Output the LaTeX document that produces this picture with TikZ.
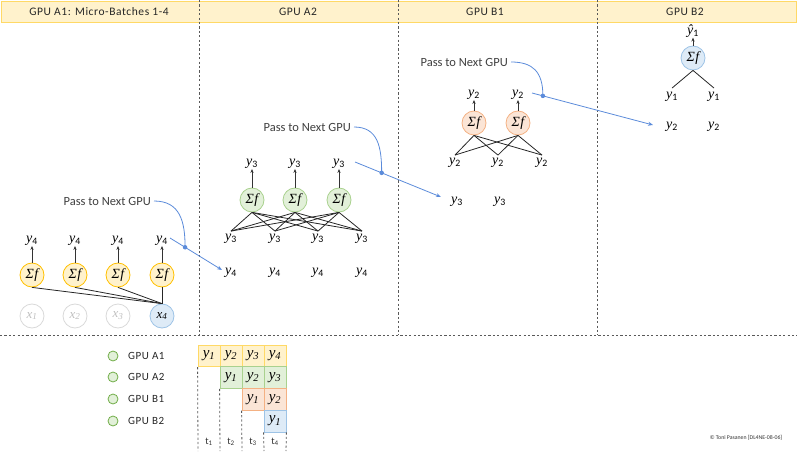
\documentclass[tikz,border=0pt]{standalone}
\usepackage[no-math]{fontspec}
\setmainfont{Carlito}
\newfontfamily\spaced[LetterSpace=5]{Carlito}
\newfontfamily\ser{Liberation Serif}
\newcommand\yy[1]{{\ser\itshape y}\textsubscript{#1}}
\newcommand\xx[1]{{\ser\itshape x\textsubscript{#1}}}
\newcommand\yi[1]{{\ser\itshape y\textsubscript{#1}}}
\newcommand\sumf{{\ser\itshape Σ\kern0.5pt f}}
\usetikzlibrary{arrows.meta,calc}
\definecolor{hdrfill}{HTML}{FFF2CC}
\definecolor{hdrdraw}{HTML}{FFD966}
\definecolor{yelfill}{HTML}{FFF2CC}
\definecolor{yeldraw}{HTML}{FFC000}
\definecolor{grnfill}{HTML}{E2F0D9}
\definecolor{grndraw}{HTML}{A9D18E}
\definecolor{orgfill}{HTML}{FBE5D6}
\definecolor{orgdraw}{HTML}{F4B183}
\definecolor{blufill}{HTML}{DEEBF7}
\definecolor{bludraw}{HTML}{9DC3E6}
\definecolor{arrblue}{HTML}{5B8BDA}
\definecolor{sepgray}{HTML}{595959}
\definecolor{txtgray}{HTML}{404040}
\definecolor{ghostdraw}{HTML}{D9D9D9}
\definecolor{ghosttext}{HTML}{BFBFBF}
\definecolor{legdraw}{HTML}{70AD47}
\tikzset{
  neuron/.style={circle, minimum size=24pt, inner sep=0pt, line width=0.8pt, font=\fontsize{14}{15}\selectfont},
  yel/.style={neuron, fill=yelfill, draw=yeldraw},
  grn/.style={neuron, fill=grnfill, draw=grndraw},
  org/.style={neuron, fill=orgfill, draw=orgdraw},
  blu/.style={neuron, fill=blufill, draw=bludraw},
  ghost/.style={neuron, fill=white, draw=ghostdraw, text=ghosttext, font=\fontsize{13}{14}\selectfont},
  xin/.style={neuron, fill=blufill, draw=bludraw, font=\fontsize{13}{14}\selectfont},
  lab/.style={inner sep=0pt, font=\fontsize{14}{16}\selectfont},
  up/.style={-{Stealth[length=4pt,width=3.2pt]}, line width=0.8pt, draw=black!80},
  wire/.style={line width=0.8pt, draw=black!85},
  passtext/.style={inner sep=0pt, font=\fontsize{12.5}{14}\selectfont, text=txtgray},
  passarrow/.style={draw=arrblue, line width=0.8pt, -{Stealth[length=5pt,width=4pt]}},
  passcurve/.style={draw=arrblue, line width=0.8pt},
  passdot/.style={circle, fill=arrblue, inner sep=0pt, minimum size=4.5pt},
  sep/.style={draw=sepgray, line width=0.8pt, dash pattern=on 2.2pt off 2.2pt},
  hdr/.style={inner sep=0pt, font=\spaced\fontsize{11.5}{13}\selectfont, text=black!85},
  legdot/.style={circle, minimum size=10pt, inner sep=0pt, fill=grnfill, draw=legdraw, line width=0.8pt},
  legtext/.style={inner sep=0pt, anchor=west, font=\spaced\fontsize{11}{13}\selectfont, text=black!85},
  cell/.style={minimum width=22pt, minimum height=21.75pt, inner sep=0pt, line width=0.8pt, font=\fontsize{15}{16}\selectfont},
  cy/.style={cell, fill=yelfill, draw=hdrdraw},
  cg/.style={cell, fill=grnfill, draw=grndraw},
  co/.style={cell, fill=orgfill, draw=orgdraw},
  cb/.style={cell, fill=blufill, draw=bludraw},
  tlab/.style={inner sep=0pt, font=\fontsize{10}{12}\selectfont, text=black!80}
}
\begin{document}
\begin{tikzpicture}[x=1pt,y=-1pt]
\useasboundingbox (0,0) rectangle (797,454);
% header band
\node[draw=hdrdraw, fill=hdrfill, line width=1.2pt, minimum width=795pt, minimum height=21pt, inner sep=0pt, anchor=north west] (band) at (1,1) {};
\node[hdr] (h1) at (99,11.5) {GPU A1: Micro-Batches 1-4};
\node[hdr] (h2) at (298,11.5) {GPU A2};
\node[hdr] (h3) at (485,11.5) {GPU B1};
\node[hdr] (h4) at (685,11.5) {GPU B2};
% separators
\coordinate (s1t) at (199,0); \coordinate (s1b) at (199,335);
\coordinate (s2t) at (398,0); \coordinate (s2b) at (398,335);
\coordinate (s3t) at (597,0); \coordinate (s3b) at (597,335);
\coordinate (hl) at (0,335); \coordinate (hr) at (797,335);
\draw[sep] (s1t) -- (s1b);
\draw[sep] (s2t) -- (s2b);
\draw[sep] (s3t) -- (s3b);
\draw[sep] (hl) -- (hr);

% ===== GPU A1 =====
\node[ghost] (x1) at (32,316) {\xx{1}};
\node[ghost] (x2) at (75,316) {\xx{2}};
\node[ghost] (x3) at (118,316) {\xx{3}};
\node[xin] (x4) at (162,316) {\xx{4}};
\foreach \i/\x in {1/32,2/75,3/118,4/162}{
  \node[yel] (a1n\i) at (\x,275) {\sumf};
  \node[lab] (a1t\i) at (\x,241) {\yy{4}};
  \draw[up] (a1n\i.north) -- (a1t\i.south);
}
\foreach \i in {1,2,3,4}{ \draw[wire] (a1n\i.south) -- (x4.north); }
\node[passtext, anchor=east] (p1) at (151,201) {Pass to Next GPU};
\coordinate (a1s) at (170,238);
\coordinate (a1e) at (222,270);
\draw[passarrow] (a1s) -- (a1e);
\node[passdot] (d1) at ($(a1s)!0.29!(a1e)$) {};
\draw[passcurve] (p1.east) ++(3,0) coordinate (p1s) .. controls ($(p1s)+(26,0)$) and ($(d1)+(0,-26)$) .. (d1.center);

% ===== GPU A2 =====
\foreach \i/\x in {1/231,2/275,3/318,4/362}{
  \node[lab] (a2y\i) at (\x,273) {\yy{4}};
  \node[lab] (a2b\i) at (\x,239) {\yy{3}};
}
\foreach \i/\x in {1/252,2/295,3/339}{
  \node[grn] (a2n\i) at (\x,200) {\sumf};
  \node[lab] (a2t\i) at (\x,164) {\yy{3}};
  \draw[up] (a2n\i.north) -- (a2t\i.south);
  \foreach \j in {1,2,3,4}{ \draw[wire] (a2n\i.south) -- ($(a2b\j.north)+(0,-3)$); }
}
\node[passtext, anchor=east] (p2) at (351,127) {Pass to Next GPU};
\coordinate (a2s) at (355,162);
\coordinate (a2e) at (441,197);
\draw[passarrow] (a2s) -- (a2e);
\node[passdot] (d2) at ($(a2s)!0.31!(a2e)$) {};
\draw[passcurve] (p2.east) ++(3,0) coordinate (p2s) .. controls ($(p2s)+(24,0)$) and ($(d2)+(0,-26)$) .. (d2.center);

% ===== GPU B1 =====
\node[lab] (b1y1) at (457,202) {\yy{3}};
\node[lab] (b1y2) at (500,202) {\yy{3}};
\foreach \i/\x in {1/455,2/498,3/542}{
  \node[lab] (b1b\i) at (\x,163) {\yy{2}};
}
\foreach \i/\x in {1/474,2/518}{
  \node[org] (b1n\i) at (\x,123) {\sumf};
  \node[lab] (b1t\i) at (\x,95) {\yy{2}};
  \draw[up] (b1n\i.north) -- (b1t\i.south);
  \foreach \j in {1,2,3}{ \draw[wire] (b1n\i.south) -- ($(b1b\j.north)+(0,-3)$); }
}
\node[passtext, anchor=east] (p3) at (508,62) {Pass to Next GPU};
\coordinate (b1s) at (532,93);
\coordinate (b1e) at (653,125);
\draw[passarrow] (b1s) -- (b1e);
\node[passdot] (d3) at ($(b1s)!0.09!(b1e)$) {};
\draw[passcurve] (p3.east) ++(3,0) coordinate (p3s) .. controls ($(p3s)+(22,0)$) and ($(d3)+(0,-24)$) .. (d3.center);

% ===== GPU B2 =====
\node[lab] (b2y1) at (672,127) {\yy{2}};
\node[lab] (b2y2) at (714,127) {\yy{2}};
\node[lab] (b2a1) at (672,97) {\yy{1}};
\node[lab] (b2a2) at (714,97) {\yy{1}};
\node[blu] (b2n) at (693,58) {\sumf};
\node[lab] (b2t) at (693,31) {{\ser\itshape ŷ}\textsubscript{1}};
\draw[up] (b2n.north) -- (b2t.south);
\draw[wire] (b2n.south) -- ($(b2a1.north)+(0,-4)$);
\draw[wire] (b2n.south) -- ($(b2a2.north)+(0,-4)$);

% ===== Legend / timeline =====
\foreach \i/\y/\t in {1/356/GPU A1,2/377/GPU A2,3/399/GPU B1,4/421/GPU B2}{
  \node[legdot] (l\i) at (113,\y) {};
  \node[legtext] (lt\i) at (128,\y) {\t};
}
% row 1
\node[cy] (c11) at (209,355.9) {\yi{1}};
\node[cy] (c12) at (231,355.9) {\yi{2}};
\node[cy] (c13) at (253,355.9) {\yi{3}};
\node[cy] (c14) at (275,355.9) {\yi{4}};
% row 2
\node[cg] (c22) at (231,377.6) {\yi{1}};
\node[cg] (c23) at (253,377.6) {\yi{2}};
\node[cg] (c24) at (275,377.6) {\yi{3}};
% row 3
\node[co] (c33) at (253,399.4) {\yi{1}};
\node[co] (c34) at (275,399.4) {\yi{2}};
% row 4
\node[cb] (c44) at (275,421.1) {\yi{1}};
% dashed time lines
\coordinate (e1) at (198,451);
\coordinate (e2) at (220,451);
\coordinate (e3) at (242,451);
\coordinate (e4) at (264,451);
\coordinate (e5) at (286,451);
\draw[sep] (c11.south west) -- (e1);
\draw[sep] (c22.south west) -- (e2);
\draw[sep] (c33.south west) -- (e3);
\draw[sep] (c44.south west) -- (e4);
\draw[sep] (c44.south east) -- (e5);
\node[tlab] (t1) at (209,442) {t\textsubscript{1}};
\node[tlab] (t2) at (231,442) {t\textsubscript{2}};
\node[tlab] (t3) at (253,442) {t\textsubscript{3}};
\node[tlab] (t4) at (275,442) {t\textsubscript{4}};

\node[inner sep=0pt, font=\fontsize{5.8}{7}\selectfont, text=black!80] (copy) at (746,438) {© Toni Pasanen [DL4NE-08-06]};
\end{tikzpicture}
\end{document}
